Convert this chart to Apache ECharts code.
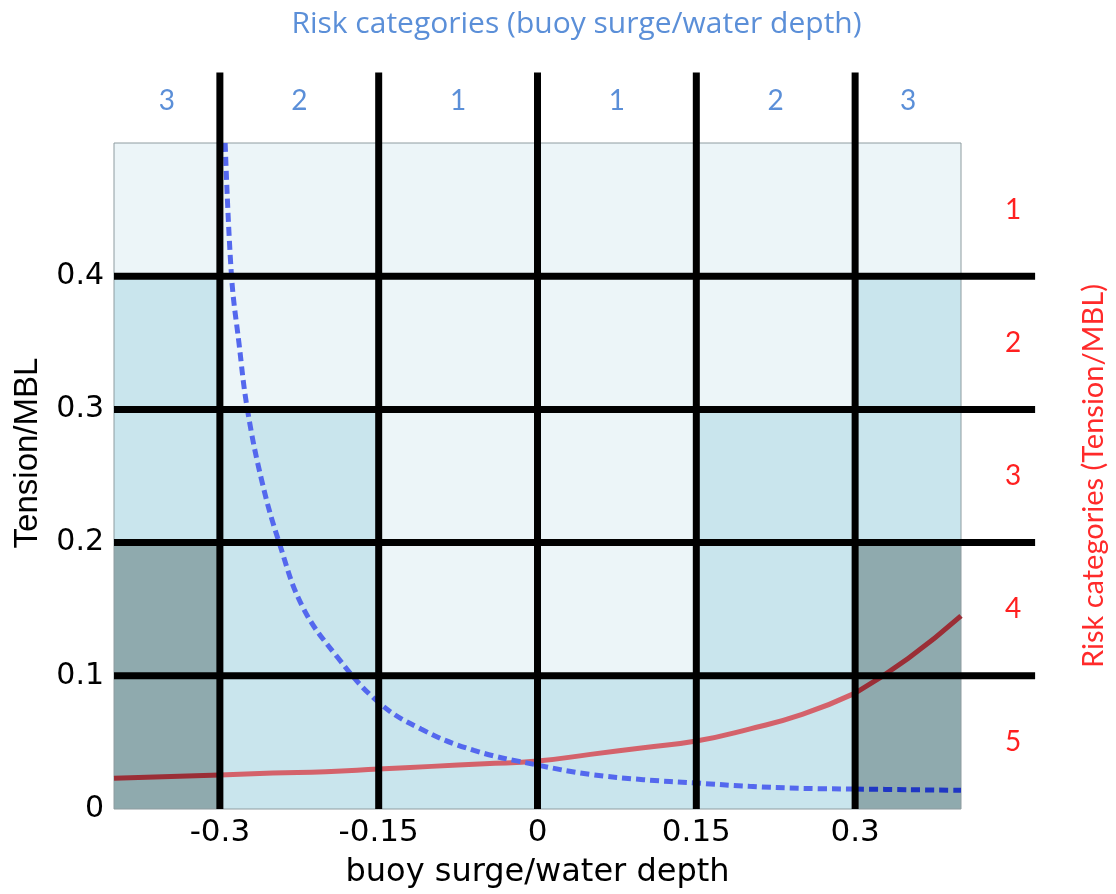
<!DOCTYPE html>
<html>
<head>
<meta charset="utf-8">
<script src="https://cdn.jsdelivr.net/npm/echarts@6/dist/echarts.min.js"></script>
<style>
  html, body { margin: 0; padding: 0; background: #fff; }
  #chart { width: 1116px; height: 894px; }
</style>
</head>
<body>
<div id="chart"></div>
<script>
// risk grid edges
const xEdges = [-0.4, -0.3, -0.15, 0, 0.15, 0.3, 0.4]
const yEdges = [0, 0.1, 0.2, 0.3, 0.4, 0.5]
// shade per cell, bottom row first (0 light, 1 medium, 2 dark)
const cellShade = [
  [2, 1, 1, 1, 1, 2],
  [2, 1, 0, 0, 1, 2],
  [1, 1, 0, 0, 1, 1],
  [1, 0, 0, 0, 0, 1],
  [0, 0, 0, 0, 0, 0],
]
const xTicks = [-0.3, -0.15, 0, 0.15, 0.3]
const yTicks = [0, 0.1, 0.2, 0.3, 0.4]
const surgeRisk = ['3', '2', '1', '1', '2', '3']
const tensionRisk = ['5', '4', '3', '2', '1'] // bottom to top

// black boundaries, they run past the plot up to these values
const vLines = [-0.3, -0.15, 0, 0.15, 0.3]
const hLines = [0.1, 0.2, 0.3, 0.4]
const vLineTop = 0.553
const hLineEnd = 0.47

// dashed blue curve
const blueX = [-0.295, -0.289, -0.282, -0.274, -0.26, -0.244, -0.222, -0.19, -0.15, -0.11, -0.06, 0, 0.05, 0.1, 0.15, 0.2, 0.25, 0.3, 0.35, 0.4]
const blueY = [0.5, 0.4, 0.35, 0.3, 0.245, 0.2, 0.152, 0.115, 0.08, 0.06, 0.044, 0.033, 0.026, 0.022, 0.0195, 0.017, 0.0155, 0.015, 0.0145, 0.014]
// solid red curve
const redX = [-0.4, -0.3, -0.25, -0.2, -0.15, -0.1, -0.05, 0, 0.05, 0.1, 0.15, 0.2, 0.25, 0.3, 0.35, 0.4]
const redY = [0.023, 0.0255, 0.027, 0.028, 0.03, 0.032, 0.034, 0.036, 0.041, 0.046, 0.051, 0.06, 0.071, 0.087, 0.113, 0.145]

const shadeColors = ['#ecf5f8', '#c9e5ed', '#8faaae']
const blueCol = '#5468ee'
const blueDark = '#1f36c4'
const redCol = '#d4626b'
const redDark = '#9b2e36'

const cells = []
cellShade.forEach((row, r) => row.forEach((s, c) => cells.push([c, r, s])))

const pts = (xs, ys, lo, hi) => xs.map((x, i) => [x, ys[i]]).filter(p => p[0] >= lo && p[0] <= hi)

const colCenters = xEdges.slice(0, -1).map((x, i) => (x + xEdges[i + 1]) / 2)

const axisFont = 'DejaVu Sans'
const riskFont = 'Lato'

const dom = document.getElementById('chart')
const myChart = echarts.init(dom)

const option = {
  animation: false,
  grid: { left: 114, right: 153, top: 143, bottom: 84, show: false },
  xAxis: [
    {
      type: 'value',
      min: -0.4,
      max: 0.4,
      axisLine: { show: false },
      axisTick: { show: false },
      splitLine: { show: false },
      axisLabel: {
        customValues: xTicks,
        color: '#000',
        fontFamily: axisFont,
        fontSize: 31,
        margin: 8,
      },
      name: 'buoy surge/water depth',
      nameLocation: 'middle',
      nameGap: 48,
      nameTextStyle: { color: '#000', fontFamily: axisFont, fontSize: 32 },
    },
    {
      type: 'value',
      position: 'top',
      min: -0.4,
      max: 0.4,
      axisLine: { show: false },
      axisTick: { show: false },
      splitLine: { show: false },
      axisLabel: {
        customValues: colCenters,
        color: '#5b8fd8',
        fontFamily: riskFont,
        fontSize: 28,
        margin: 28,
        formatter: v => {
          let k = 0
          colCenters.forEach((c, i) => { if (Math.abs(c - v) < Math.abs(colCenters[k] - v)) k = i })
          return surgeRisk[k]
        },
      },
      name: 'Risk categories (buoy surge/water depth)',
      nameLocation: 'middle',
      nameGap: 104,
      nameTextStyle: { color: '#5b8fd8', fontFamily: 'Open Sans', fontSize: 30, padding: [0, 0, 0, 78] },
    },
  ],
  yAxis: [
    {
      type: 'value',
      min: 0,
      max: 0.5,
      axisLine: { show: false },
      axisTick: { show: false },
      splitLine: { show: false },
      axisLabel: {
        customValues: yTicks,
        color: '#000',
        fontFamily: axisFont,
        fontSize: 30,
        margin: 10,
      },
      name: 'Tension/MBL',
      nameLocation: 'middle',
      nameGap: 70,
      nameTextStyle: { color: '#000', fontFamily: 'Liberation Sans', fontSize: 33, padding: [0, 0, 0, 46] },
    },
    {
      type: 'category',
      position: 'right',
      data: tensionRisk,
      boundaryGap: true,
      axisLine: { show: false },
      axisTick: { show: false },
      splitLine: { show: false },
      axisLabel: { color: '#ff2020', fontFamily: riskFont, fontSize: 28, margin: 44 },
      name: 'Risk categories (Tension/MBL)',
      nameLocation: 'middle',
      nameRotate: 90,
      nameGap: 118,
      nameTextStyle: { color: '#ff2a2a', fontFamily: riskFont, fontSize: 29 },
    },
  ],
  series: [
    {
      type: 'custom',
      silent: true,
      z: 1,
      data: cells,
      renderItem: (params, api) => {
        const c = api.value(0)
        const r = api.value(1)
        const p0 = api.coord([xEdges[c], yEdges[r + 1]])
        const p1 = api.coord([xEdges[c + 1], yEdges[r]])
        return {
          type: 'rect',
          shape: { x: p0[0], y: p0[1], width: p1[0] - p0[0], height: p1[1] - p0[1] },
          style: { fill: shadeColors[api.value(2)], stroke: '#8e9ca0', lineWidth: 1 },
        }
      },
    },
    {
      type: 'line', z: 3, showSymbol: false, smooth: 0.5, silent: true,
      data: pts(redX, redY, -0.4, -0.3),
      lineStyle: { color: redDark, width: 5 },
    },
    {
      type: 'line', z: 3, showSymbol: false, smooth: 0.5, silent: true,
      data: pts(redX, redY, -0.3, 0.3),
      lineStyle: { color: redCol, width: 5 },
    },
    {
      type: 'line', z: 3, showSymbol: false, smooth: 0.5, silent: true,
      data: pts(redX, redY, 0.3, 0.4),
      lineStyle: { color: redDark, width: 5 },
    },
    {
      type: 'line', z: 4, showSymbol: false, smooth: 0.4, silent: true,
      data: pts(blueX, blueY, -0.4, 0.3),
      lineStyle: { color: blueCol, width: 5, type: [9, 5] },
    },
    {
      type: 'line', z: 4, showSymbol: false, smooth: 0.3, silent: true,
      data: pts(blueX, blueY, 0.3, 0.4),
      lineStyle: { color: blueDark, width: 5, type: [9, 5] },
    },
    {
      type: 'custom',
      silent: true,
      clip: false,
      z: 10,
      data: vLines.map(v => [0, v]).concat(hLines.map(v => [1, v])),
      renderItem: (params, api) => {
        const kind = api.value(0)
        const v = api.value(1)
        const a = kind === 0 ? api.coord([v, 0]) : api.coord([-0.4, v])
        const b = kind === 0 ? api.coord([v, vLineTop]) : api.coord([hLineEnd, v])
        return {
          type: 'line',
          shape: { x1: a[0], y1: a[1], x2: b[0], y2: b[1] },
          style: { stroke: '#000', lineWidth: 7 },
        }
      },
    },
  ],
}

myChart.setOption(option, true)
window.addEventListener('resize', () => myChart.resize())
</script>
</body>
</html>
